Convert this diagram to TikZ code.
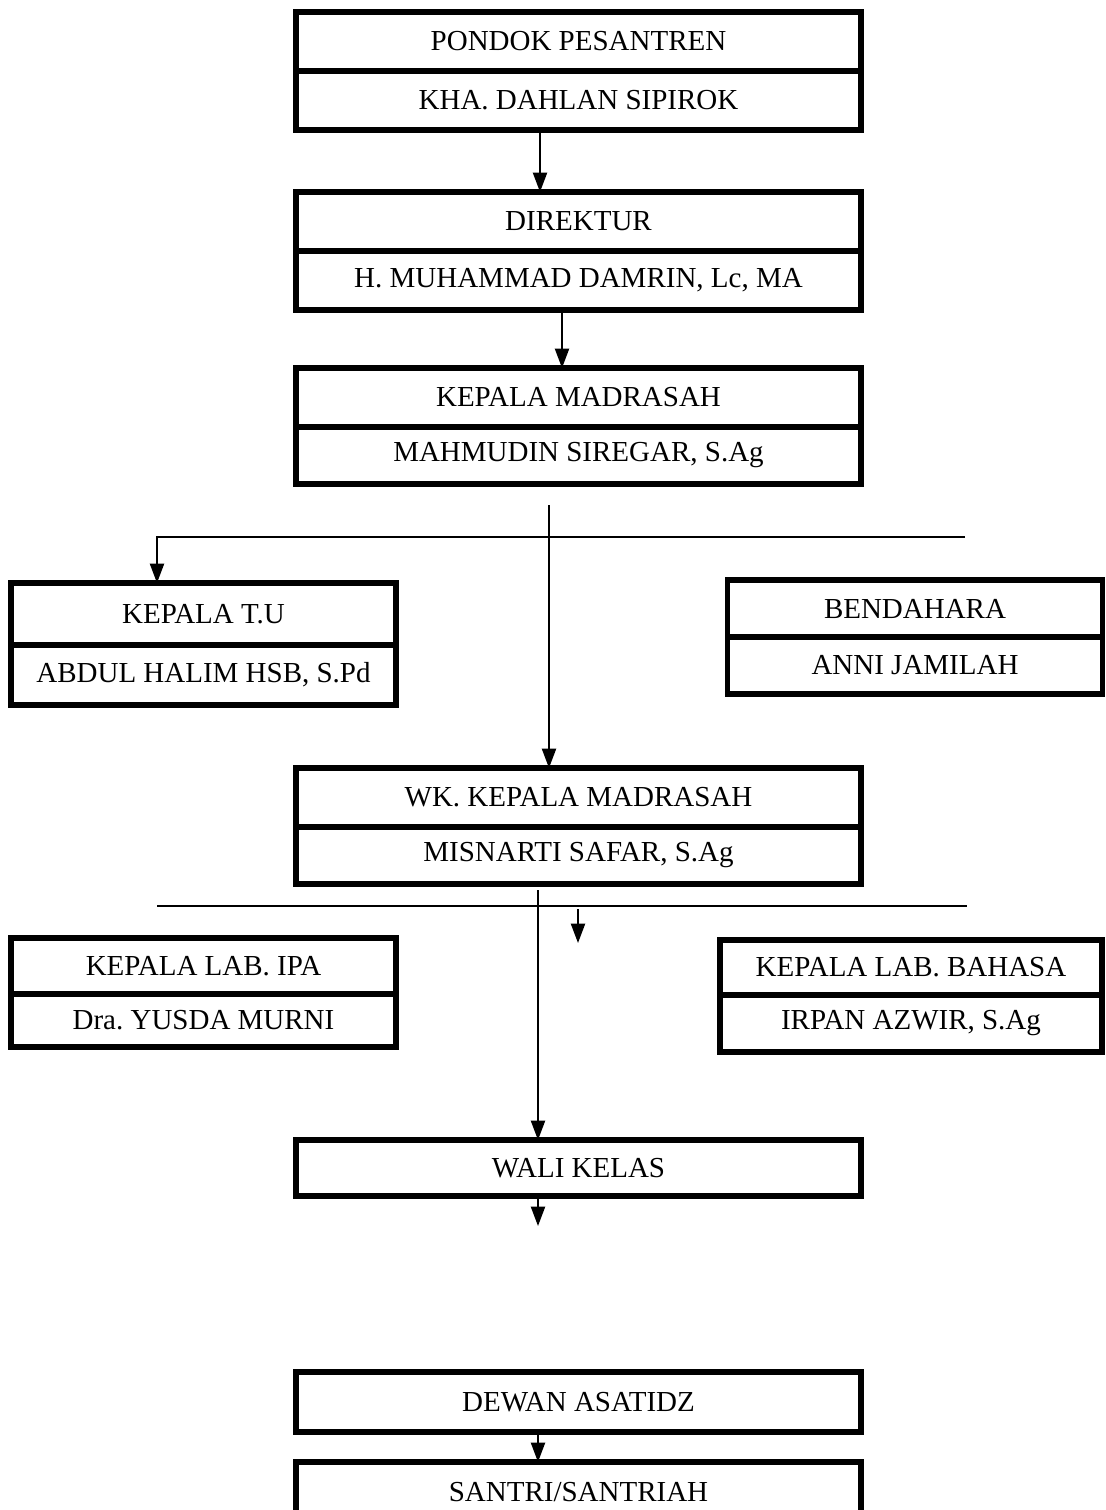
\documentclass[tikz,border=0pt]{standalone}
\usepackage{fontspec}
\setmainfont{Liberation Serif}
\usetikzlibrary{positioning,arrows.meta}

\tikzset{
  jabatan/.style={draw, line width=3.2pt, minimum width=11.3cm, minimum height=1.18cm,
    inner sep=0pt, outer sep=0pt, font=\fontsize{16.5}{20}\selectfont},
  kecil/.style={jabatan, minimum width=7.7cm},
  garis/.style={line width=1.1pt},
}

\begin{document}
\begin{tikzpicture}[line cap=butt,line join=miter,>={Triangle[width=8pt,length=11pt]},x=0.02cm,y=-0.02cm]
		\useasboundingbox (0,0) rectangle (1105,1510);
		\clip (0,0) rectangle (1105,1510);
		\node [jabatan, anchor=north] (pondok) at (578.5,12) {PONDOK PESANTREN};
		\node [jabatan, below=0pt of pondok] (kha) {KHA. DAHLAN SIPIROK};
		\node [jabatan, anchor=north] (direktur) at (578.5,192) {DIREKTUR};
		\node [jabatan, below=0pt of direktur] (damrin) {H. MUHAMMAD DAMRIN, Lc, MA};
		\node [jabatan, anchor=north, minimum height=1.18cm] (kamad) at (578.5,368) {KEPALA MADRASAH};
		\node [jabatan, below=0pt of kamad, minimum height=1.14cm] (mahmudin) {MAHMUDIN SIREGAR, S.Ag};
		\node [kecil, anchor=north, minimum height=1.24cm] (katu) at (203.5,583) {KEPALA T.U};
		\node [kecil, below=0pt of katu, minimum height=1.2cm] (halim) {ABDUL HALIM HSB, S.Pd};
		\node [kecil, anchor=north, minimum width=7.5cm, minimum height=1.14cm] (bendahara) at (915,580) {BENDAHARA};
		\node [kecil, below=0pt of bendahara, minimum width=7.5cm, minimum height=1.14cm] (anni) {ANNI JAMILAH};
		\node [jabatan, anchor=north] (wakamad) at (578.5,768) {WK. KEPALA MADRASAH};
		\node [jabatan, below=0pt of wakamad, minimum height=1.14cm] (misnarti) {MISNARTI SAFAR, S.Ag};
		\node [kecil, anchor=north, minimum height=1.12cm] (labipa) at (203.5,938) {KEPALA LAB. IPA};
		\node [kecil, below=0pt of labipa, minimum height=1.06cm] (yusda) {Dra.\ YUSDA MURNI};
		\node [kecil, anchor=north, minimum width=7.64cm, minimum height=1.1cm] (labbahasa) at (911,940) {KEPALA LAB. BAHASA};
		\node [kecil, below=0pt of labbahasa, minimum width=7.64cm, minimum height=1.14cm] (irpan) {IRPAN AZWIR, S.Ag};
		\node [jabatan, anchor=north, minimum height=1.12cm] (wali) at (578.5,1140) {WALI KELAS};
		\node [jabatan, anchor=north, minimum height=1.2cm] (dewan) at (578.5,1372) {DEWAN ASATIDZ};
		\node [jabatan, anchor=north, minimum height=1.2cm] (santri) at (578.5,1462) {SANTRI/SANTRIAH};
		\coordinate (a1) at (549,505);
		\coordinate (b1) at (157,537);
		\coordinate (c1) at (965,537);
		\coordinate (a2) at (538,890);
		\coordinate (b2) at (157,906);
		\coordinate (c2) at (967,906);
		\coordinate (d2) at (578,909);
		\coordinate (e2) at (578,943);
		\coordinate (f2) at (538,1226);
		\draw [garis,->] ([xshift=-0.77cm]kha.south) -- ([xshift=-0.77cm]direktur.north);
		\draw [garis,->] ([xshift=-0.33cm]damrin.south) -- ([xshift=-0.33cm]kamad.north);
		\draw [garis,->] (a1) -- (wakamad.north -| a1);
		\draw [garis,->] (c1) -- (b1) -- (katu.north -| b1);
		\draw [garis] (b2) -- (c2);
		\draw [garis,->] (a2) -- (wali.north -| a2);
		\draw [garis,->] (d2) -- (e2);
		\draw [garis,->] (wali.south -| f2) -- (f2);
		\draw [garis,->] (dewan.south -| f2) -- (santri.north -| f2);
	\end{tikzpicture}
\end{document}
